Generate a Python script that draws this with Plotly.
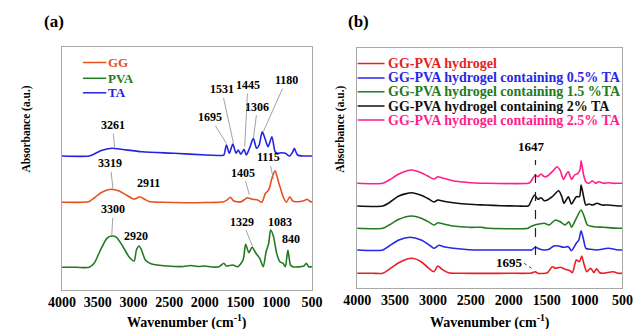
import plotly.graph_objects as go

W, H = 644, 329

# ---------------- Panel (a) data ----------------
ta_wn = [4000, 3620, 3550, 3450, 3300, 3150, 2880, 2430, 1980, 1800, 1760, 1734, 1698, 1658, 1608, 1564,
         1532, 1496, 1451, 1420, 1375, 1321, 1276, 1240, 1196, 1151, 1115, 1061, 1016, 980, 926, 872,
         814, 770, 747, 702, 612, 523, 500]
ta_abs = [134, 134, 136, 139.5, 141.7, 140.5, 138.3, 136.7, 135, 134.5, 134.5, 135, 145, 136.7, 146, 136.7,
          140, 135.7, 140.7, 135, 141.7, 151.7, 141.7, 145, 158.3, 150, 143.3, 153.3, 138.3, 136.7, 137.3, 136.7,
          134, 138, 141.7, 135, 134, 134, 134]

gg_wn = [4000, 3700, 3620, 3550, 3450, 3319, 3200, 3100, 3000, 2960, 2911, 2850, 2780, 2600, 2000, 1734,
         1690, 1644, 1600, 1550, 1490, 1440, 1405, 1330, 1260, 1204, 1151, 1106, 1061, 1016, 970, 926,
         904, 859, 810, 770, 725, 612, 568, 523, 500]
gg_abs = [87.7, 87.7, 88.5, 92, 97.5, 100.7, 99, 95, 91, 91.5, 93.3, 91, 88.5, 87.7, 87.5, 88.3,
          90, 92.7, 89.3, 88.3, 88.3, 90.7, 92.3, 90.7, 90, 87.7, 96.7, 100, 111.7, 119.3, 108.3, 98.3,
          93.3, 87.7, 93.3, 89, 88.3, 89.3, 90.7, 88.3, 88]

pva_wn = [4000, 3800, 3619, 3551, 3462, 3372, 3304, 3237, 3147, 3058, 2990, 2959, 2923, 2887, 2833, 2744,
          2519, 2300, 2200, 2100, 2000, 1900, 1800, 1734, 1700, 1610, 1540, 1465, 1429, 1384, 1339, 1285,
          1232, 1182, 1142, 1106, 1079, 1038, 994, 949, 904, 873, 837, 801, 770, 612, 581, 545, 500]
pva_abs = [22.7, 22.7, 22.7, 26.7, 40, 51.7, 54, 52.7, 43.3, 32.7, 29, 40, 44, 40, 30, 26,
           24, 23.5, 24.5, 23.5, 24, 23, 23.3, 26.7, 24, 25, 23.3, 30, 45.7, 37.3, 42.7, 36.7,
           31.7, 23.3, 38.3, 46.7, 60, 53.3, 36.7, 28.3, 26.7, 23.3, 40, 25, 23.3, 24, 26.7, 23.3, 23.3]

# ---------------- Panel (b) data ----------------
r_wn = [4000, 3800, 3662, 3577, 3450, 3281, 3155, 3070, 2986, 2935, 2880, 2795, 2647, 2000, 1743, 1700,
        1650, 1616, 1489, 1426, 1384, 1320, 1256, 1193, 1160, 1108, 1066, 1037, 1004, 970, 919, 876,
        843, 800, 749, 623, 559, 500]
r_abs = [14.7, 14.7, 14.7, 18.7, 25.3, 29.7, 26.3, 20.7, 16.3, 22, 18.7, 15.3, 14.7, 14.7, 14.7, 15,
         16.3, 14.7, 15.3, 21.3, 19.7, 20.7, 18.7, 17.3, 15.3, 28, 26.3, 32, 23, 16.3, 19.7, 15.3,
         19.3, 15.3, 14.7, 16.3, 14.7, 14.7]

b_wn = [4000, 3662, 3577, 3450, 3302, 3155, 3049, 2986, 2922, 2859, 2732, 2521, 2309, 1743, 1700, 1650,
        1595, 1531, 1468, 1405, 1341, 1278, 1214, 1172, 1109, 1075, 1045, 1012, 982, 919, 834, 686, 559, 500]
b_abs = [38, 38, 42, 48, 50.7, 48, 43, 39.7, 42.7, 41.3, 39.7, 38.3, 38, 38, 38, 40.7,
         39, 38, 38.7, 42, 42, 40.7, 41.3, 37.3, 44.7, 48, 57.3, 48, 39.7, 38.7, 38, 39.7, 38, 38]

g_wn = [4000, 3662, 3577, 3450, 3281, 3155, 3049, 2986, 2935, 2859, 2732, 2521, 2352, 2309, 1743, 1730,
        1658, 1595, 1531, 1468, 1384, 1320, 1257, 1206, 1172, 1109, 1045, 1003, 961, 876, 749, 559, 500]
g_abs = [59.7, 59.7, 63, 68.7, 72, 69.7, 65.7, 63, 65.3, 64, 62, 60.7, 60.7, 60, 59.7, 60.7,
         63, 64, 64.7, 63, 68, 66.3, 63, 66.3, 60.7, 69.7, 78, 71.3, 63, 61.3, 60.7, 59.7, 59.7]

k_wn = [4000, 3662, 3577, 3450, 3281, 3155, 3049, 2986, 2935, 2859, 2732, 2521, 2309, 2098, 1886, 1743,
        1730, 1658, 1616, 1574, 1531, 1489, 1426, 1341, 1299, 1270, 1214, 1172, 1109, 1067, 1045, 1012,
        982, 940, 897, 834, 770, 686, 559, 500]
k_abs = [82, 82, 85.3, 92, 95.3, 92.7, 88.7, 86, 88, 86.7, 85.3, 83.7, 83, 82.3, 82, 82,
         83, 93, 88.7, 90.3, 87.3, 88, 91.3, 97.3, 91.3, 84.7, 91.3, 84, 91.3, 91.3, 103, 91.3,
         83, 84, 83, 84.7, 83, 83, 82, 82]

p_wn = [4000, 3662, 3577, 3450, 3281, 3155, 3070, 2986, 2935, 2859, 2732, 2563, 2436, 2309, 1743, 1720,
        1679, 1650, 1616, 1574, 1531, 1489, 1426, 1362, 1320, 1278, 1240, 1214, 1172, 1130, 1088, 1060,
        1045, 1012, 982, 940, 897, 855, 813, 749, 686, 623, 559, 500]
p_abs = [104.7, 104.7, 108, 114, 118, 115.3, 112, 109, 111.3, 109.7, 107.3, 105.7, 105, 104.7, 104.7, 105.3,
         110, 113, 111.3, 114, 111.3, 112, 116.3, 121.3, 117.3, 108.7, 114, 116.3, 108.7, 113, 114.7, 118,
         127.3, 113, 106.3, 104.7, 107.3, 104.7, 106.3, 104.7, 105.3, 104.7, 104.7, 104.7]

tick_vals = [4000, 3500, 3000, 2500, 2000, 1500, 1000, 500]
tick_text = ["4000", "3500", "3000", "2500", "2000", "1500", "1000", "500"]

names_a = ["GG", "PVA", "TA"]
colors_a = ["#E8501E", "#237A23", "#2424E0"]
names_b = ["GG-PVA hydrogel", "GG-PVA hydrogel containing 0.5% TA", "GG-PVA hydrogel containing 1.5 %TA",
           "GG-PVA hydrogel containing 2% TA", "GG-PVA hydrogel containing 2.5% TA"]
colors_b = ["#E81E24", "#2828E6", "#237A23", "#111111", "#FF1E8C"]

# peak labels: (text, label_x, label_y, tip_x, tip_y or None)
peaks_a = [("3261", 3291, 165, 3265, 143), ("1695", 1927, 172.7, 1698, 146.5), ("1531", 1765, 200.7, 1600, 147),
           ("1445", 1398, 205, 1442, 143.3), ("1306", 1263, 183.3, 1317, 153), ("1180", 859, 210, 1180, 158.5),
           ("3319", 3327, 126.7, 3287, 101.5), ("2911", 2788, 106.7, None, None), ("1405", 1465, 117.3, 1375, 95),
           ("1115", 1106, 132.7, 1040, 111), ("3300", 3283, 80.7, 3304, 55), ("2920", 2968, 54, None, None),
           ("1329", 1473, 68.3, 1331, 43.5), ("1083", 948, 68.3, None, None), ("840", 792, 50.7, None, None)]
mark_b = 1647

SERIF = "Liberation Serif"

fig = go.Figure()
for wn, ab, nm, c in zip([gg_wn, pva_wn, ta_wn], [gg_abs, pva_abs, ta_abs], names_a, colors_a):
    fig.add_trace(go.Scatter(x=wn, y=ab, name=nm, mode="lines", line=dict(color=c, width=1.6, shape="spline", smoothing=0.7),
                             xaxis="x", yaxis="y", showlegend=False))
for wn, ab, nm, c in zip([r_wn, b_wn, g_wn, k_wn, p_wn], [r_abs, b_abs, g_abs, k_abs, p_abs], names_b, colors_b):
    fig.add_trace(go.Scatter(x=wn, y=ab, name=nm, mode="lines", line=dict(color=c, width=1.6, shape="spline", smoothing=0.7),
                             xaxis="x2", yaxis="y2", showlegend=False))


def px(x):
    return x / W


def py(y):
    return 1 - y / H


ax_common = dict(showline=True, mirror=True, linecolor="#a8a8a8", linewidth=1, showgrid=False, zeroline=False,
                 ticks="")
xcommon = dict(ax_common, range=[4000, 500], tickvals=tick_vals, ticktext=tick_text, ticklabelstandoff=-1,
               tickfont=dict(family=SERIF, size=14, color="black", weight="bold"))
ycommon = dict(ax_common, showticklabels=False)

fig.update_layout(
    width=W, height=H, margin=dict(l=0, r=0, t=0, b=0),
    paper_bgcolor="white", plot_bgcolor="white",
    xaxis=dict(xcommon, domain=[px(50), px(310)], anchor="y"),
    yaxis=dict(ycommon, domain=[py(290), py(47)], range=[0, 243], anchor="x"),
    xaxis2=dict(xcommon, domain=[px(357), px(633)], anchor="y2"),
    yaxis2=dict(ycommon, domain=[py(288), py(48)], range=[0, 240], anchor="x2"),
)

ann = []
shapes = []
numfont = dict(family=SERIF, size=12, color="black", weight="bold")
for t, lx, ly, tx, ty in peaks_a:
    if tx is None:
        ann.append(dict(text=t, x=lx, y=ly, xref="x", yref="y", showarrow=False, font=numfont,
                        xanchor="center", yanchor="middle"))
    else:
        ann.append(dict(text=t, x=tx, y=ty, ax=lx, ay=ly, xref="x", yref="y", axref="x", ayref="y",
                        showarrow=True, arrowhead=0, arrowwidth=0.8, arrowcolor="#8a8a8a", standoff=0,
                        font=numfont))

# panel (b) marks
ann.append(dict(text=str(mark_b), x=1701, y=141.3, xref="x2", yref="y2", showarrow=False,
                xanchor="center", yanchor="middle",
                font=dict(family=SERIF, size=13, color="black", weight="bold")))
shapes.append(dict(type="line", xref="x2", yref="y2", x0=mark_b, x1=mark_b, y0=33, y1=128,
                   line=dict(color="#222222", width=1.2, dash="dash")))
ann.append(dict(text="1695", x=1996, y=25.7, xref="x2", yref="y2", showarrow=False,
                xanchor="center", yanchor="middle",
                font=dict(family=SERIF, size=13, color="black", weight="bold")))
shapes.append(dict(type="line", xref="x2", yref="y2", x0=1797, x1=1679, y0=24.7, y1=18.7,
                   line=dict(color="#444444", width=1, dash="dot")))

# legends (manual)
leg_a_y = [62.5, 78.3, 92.8]
for nm, c, yy in zip(names_a, colors_a, leg_a_y):
    shapes.append(dict(type="line", xref="paper", yref="paper", x0=px(71.7), x1=px(96), y0=py(yy), y1=py(yy),
                       line=dict(color=c, width=1.5)))
    ann.append(dict(text=nm, x=px(97), y=py(yy), xref="paper", yref="paper", xanchor="left", yanchor="middle",
                    showarrow=False, borderpad=0, font=dict(family=SERIF, size=13, color=c, weight="bold")))
leg_b_y = [63.5, 78, 91.8, 106, 120]
for nm, c, yy in zip(names_b, colors_b, leg_b_y):
    shapes.append(dict(type="line", xref="paper", yref="paper", x0=px(357.5), x1=px(385.5), y0=py(yy), y1=py(yy),
                       line=dict(color=c, width=1.5)))
    ann.append(dict(text=nm, x=px(388), y=py(yy), xref="paper", yref="paper", xanchor="left", yanchor="middle",
                    showarrow=False, borderpad=0, font=dict(family=SERIF, size=14, color=c, weight="bold")))

# titles
for cx in (180, 495):
    ann.append(dict(text="Wavenumber (cm<sup>-1</sup>)", x=px(cx), y=py(321), xref="paper", yref="paper",
                    xanchor="center", yanchor="middle",
                    showarrow=False, font=dict(family=SERIF, size=14, color="black", weight="bold")))
for cx in (12, 339):
    ann.append(dict(text="Absorbance (a.u.)", x=px(cx), y=py(129), xref="paper", yref="paper", textangle=-90,
                    xanchor="center", yanchor="middle",
                    showarrow=False, font=dict(family=SERIF, size=11.5, color="black", weight="bold")))
for t, cx in (("(a)", 41.7), ("(b)", 358.3)):
    ann.append(dict(text=t, x=px(cx), y=py(21.5), xref="paper", yref="paper", showarrow=False,
                    xanchor="center", yanchor="middle",
                    font=dict(family=SERIF, size=17, color="black", weight="bold")))

fig.update_layout(annotations=ann, shapes=shapes)
fig.write_html("out.html", config={"displayModeBar": False},
               post_script="document.body.style.margin='0px';")
